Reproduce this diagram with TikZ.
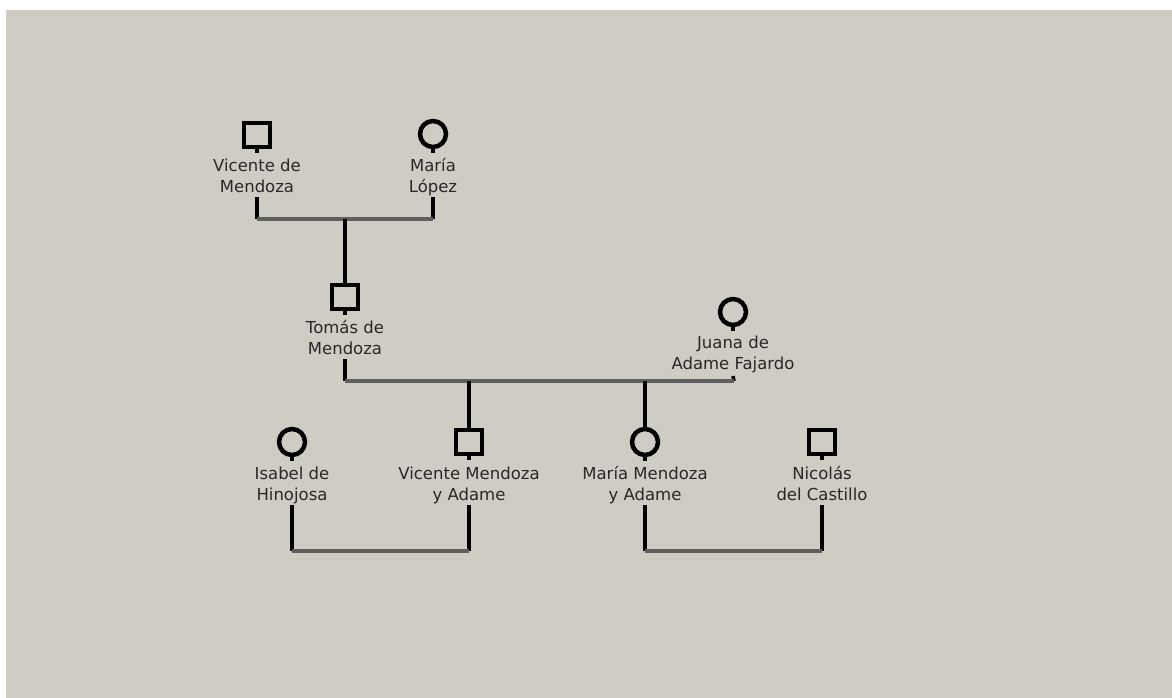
\documentclass[tikz,border=0pt]{standalone}
\usepackage{fontspec}
\setmainfont{DejaVu Sans}
\definecolor{bgc}{RGB}{207,204,196}
\definecolor{txc}{RGB}{40,40,40}
\definecolor{cpl}{RGB}{95,95,95}
\newcommand{\lines}[2]{#1\strut\\#2\strut}
\begin{document}
\begin{tikzpicture}[x=1pt,y=-1pt,
  male/.style={draw=black,line width=4.5pt,rectangle,minimum width=26pt,minimum height=24pt,inner sep=0pt},
  female/.style={draw=black,line width=4.5pt,circle,minimum size=26pt,inner sep=0pt},
  lbl/.style={font=\fontsize{16.5}{21}\selectfont,text=txc,align=center,inner sep=0pt,outer sep=0pt},
  desc/.style={line width=4.5pt,black},
  stub/.style={line width=3.5pt,black},
  couple/.style={line width=4.5pt,cpl}]
\fill[white] (0,0) rectangle (1172,698);
\fill[bgc] (6,10) rectangle (1172,698);
% generation 1
\node[male] (vdm) at (257,135) {};
\node[lbl] (vdm-l) at (257,178) {\lines{Vicente de}{Mendoza}};
\node[female] (ml) at (433,134) {};
\node[lbl] (ml-l) at (433,178) {\lines{María}{López}};
\coordinate (c1a) at (257,219);
\coordinate (c1b) at (433,219);
\coordinate (c1m) at (345,219);
% generation 2
\node[male] (tm) at (345,297) {};
\node[lbl] (tm-l) at (345,340) {\lines{Tomás de}{Mendoza}};
\node[female] (jaf) at (733,312) {};
\node[lbl] (jaf-l) at (733,355) {\lines{Juana de}{Adame Fajardo}};
\coordinate (c2a) at (345,381);
\coordinate (c2b) at (734,381);
\coordinate (c2m1) at (469,381);
\coordinate (c2m2) at (645,381);
% generation 3
\node[female] (ih) at (292,442) {};
\node[lbl] (ih-l) at (292,486) {\lines{Isabel de}{Hinojosa}};
\node[male] (vma) at (469,442) {};
\node[lbl] (vma-l) at (469,486) {\lines{Vicente Mendoza}{y Adame}};
\node[female] (mma) at (645,442) {};
\node[lbl] (mma-l) at (645,486) {\lines{María Mendoza}{y Adame}};
\node[male] (ndc) at (822,442) {};
\node[lbl] (ndc-l) at (822,486) {\lines{Nicolás}{del Castillo}};
\coordinate (c3a) at (292,551);
\coordinate (c3b) at (469,551);
\coordinate (c4a) at (645,551);
\coordinate (c4b) at (822,551);
% stubs under symbols
\foreach \n in {vdm,ml,tm,jaf,ih,vma,mma,ndc}
  \draw[stub] (\n.south) -- ++(0,4);
% lines of descent and couples
\draw[desc] ([yshift=2pt]vdm-l.south) -- (c1a);
\draw[desc] ([yshift=2pt]ml-l.south) -- (c1b);
\draw[couple] (c1a) -- (c1b);
\draw[desc] (c1m) -- (tm.north);
\draw[desc] ([yshift=2pt]tm-l.south) -- (c2a);
\draw[stub] (jaf-l.south) -- (c2b);
\draw[couple] (c2a) -- (c2b);
\draw[desc] (c2m1) -- (vma.north);
\draw[desc] (c2m2) -- (mma.north);
\draw[desc] ([yshift=2pt]ih-l.south) -- (c3a);
\draw[desc] ([yshift=2pt]vma-l.south) -- (c3b);
\draw[couple] (c3a) -- (c3b);
\draw[desc] ([yshift=2pt]mma-l.south) -- (c4a);
\draw[desc] ([yshift=2pt]ndc-l.south) -- (c4b);
\draw[couple] (c4a) -- (c4b);
\end{tikzpicture}
\end{document}
